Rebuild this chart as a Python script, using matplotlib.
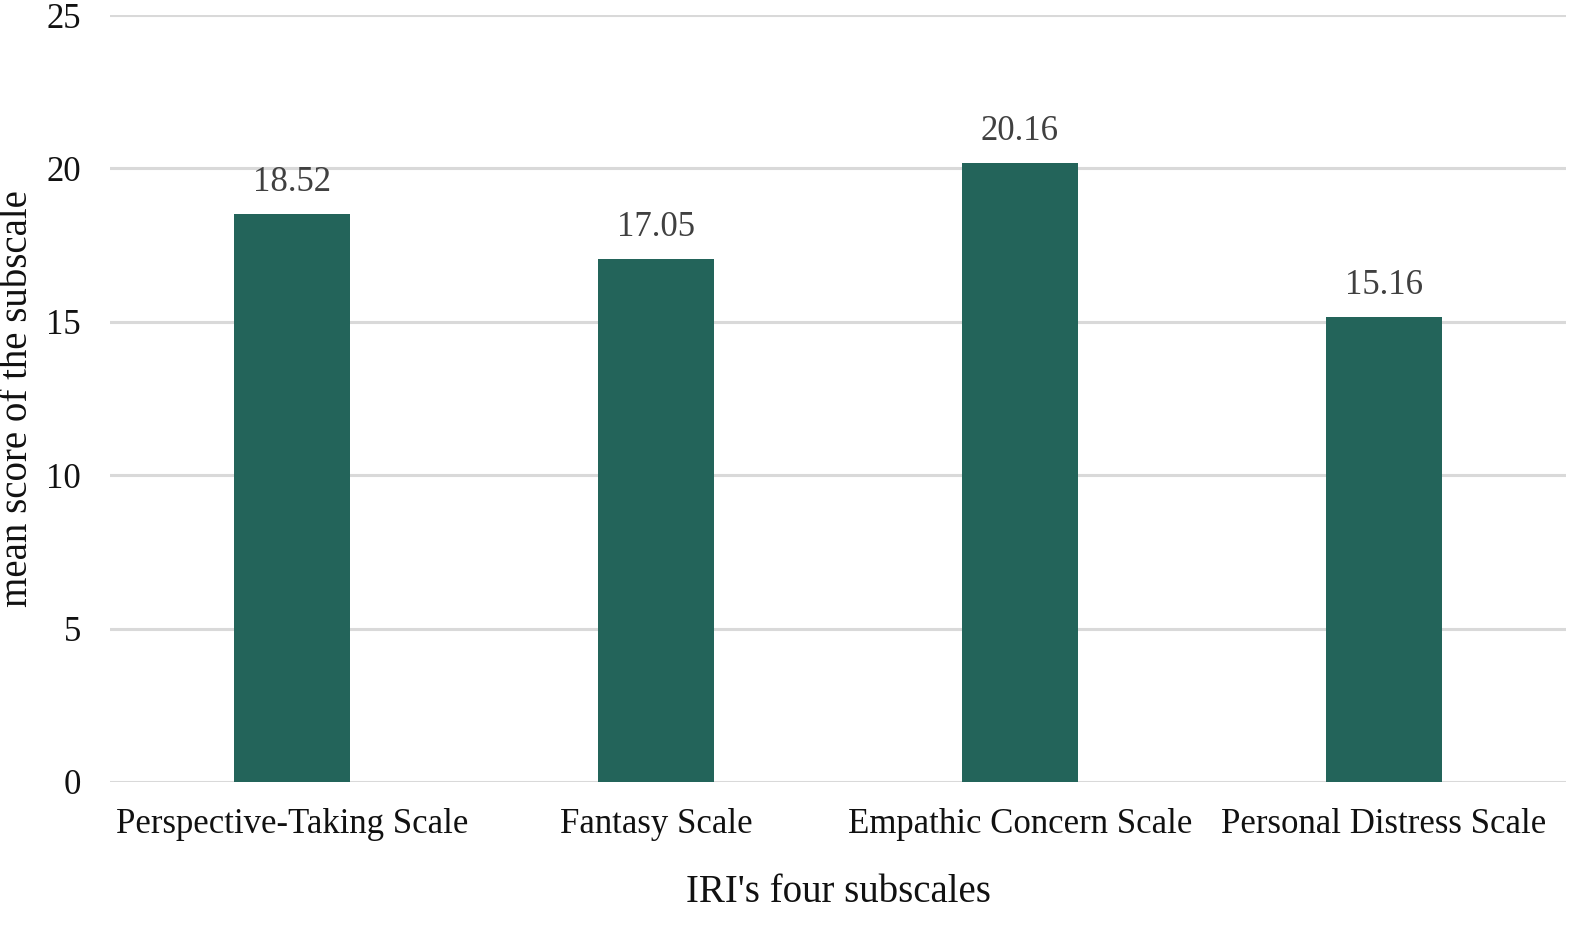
import matplotlib
matplotlib.use("Agg")
import matplotlib.pyplot as plt

categories = ["Perspective-Taking Scale", "Fantasy Scale", "Empathic Concern Scale", "Personal Distress Scale"]
values = [18.52, 17.05, 20.16, 15.16]
value_labels = ["18.52", "17.05", "20.16", "15.16"]
yticks = [0, 5, 10, 15, 20, 25]

plt.rcParams['font.family'] = ['Liberation Serif', 'DejaVu Serif']

fig = plt.figure(figsize=(15.96, 9.25), dpi=100)
ax = fig.add_axes([110/1596, (925-782)/925, (1566-110)/1596, (782-15)/925])

x = list(range(len(categories)))
bars = ax.bar(x, values, width=0.316, color="#23645A", zorder=3)
for xi, v, lab in zip(x, values, value_labels):
    ax.annotate(lab, (xi, v), xytext=(0, 11), textcoords="offset points",
                ha="center", va="bottom", fontsize=25, color="#404040")

ax.set_xlim(-0.5, len(categories) - 0.5)
ax.set_ylim(0, 25)
ax.set_yticks(yticks)
ax.set_xticks(x)
ax.set_xticklabels(categories, fontsize=25, color="#111111")
ax.tick_params(axis='y', labelsize=25, colors="#111111", length=0, pad=21)
ax.tick_params(axis='x', length=0, pad=19)
ax.grid(axis='y', color="#d9d9d9", linewidth=2.2, zorder=0)
for s in ax.spines.values():
    s.set_visible(False)
ax.set_xlabel("IRI's four subscales", fontsize=28, color="#111111", va="center")
ax.xaxis.set_label_coords(0.5, -(893 - 782) / 767)
ax.set_ylabel("mean score of the subscale", fontsize=28, color="#111111", va="center")
ax.yaxis.set_label_coords(-(110 - 18) / 1456, 0.5)

fig.savefig("out.png", dpi=100)
